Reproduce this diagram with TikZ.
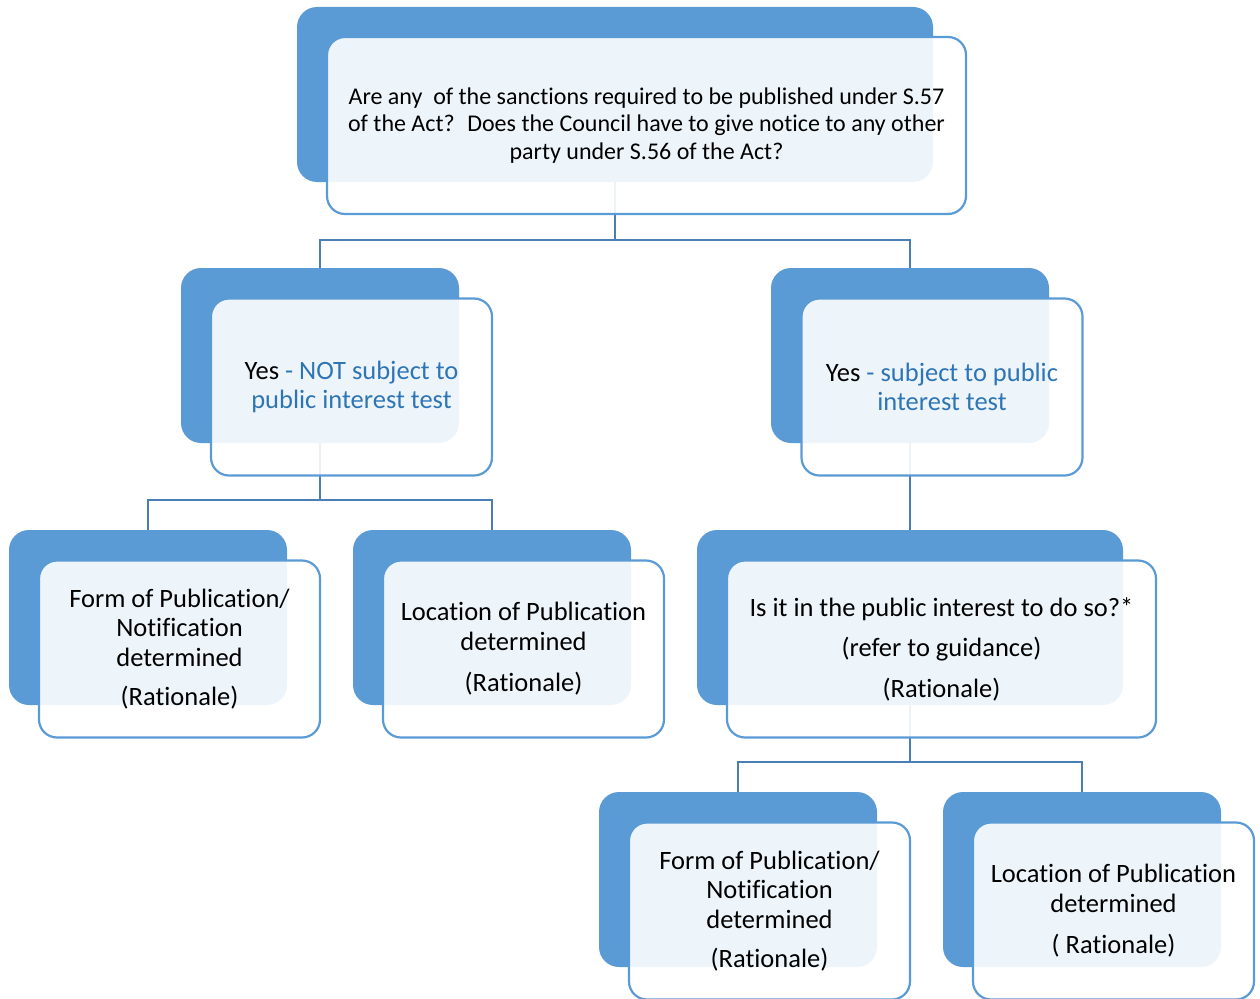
\documentclass[tikz,border=0pt]{standalone}
\usepackage{fontspec}
\setmainfont{Carlito}[Ligatures={NoCommon}]
\definecolor{accent}{HTML}{5B9BD5}
\definecolor{linec}{HTML}{4A7EB5}
\definecolor{bluetext}{HTML}{2E75B6}
\tikzset{
  backbox/.style={draw=none, fill=accent, rounded corners=20pt, minimum width=278pt, minimum height=175pt, inner sep=0pt},
  frontbox/.style={draw=accent, line width=2.2pt, fill=white, fill opacity=0.9, text opacity=1, rounded corners=18pt, minimum width=281pt, minimum height=177pt, align=center, inner sep=0pt, font=\fontsize{26.5}{29.5}\selectfont},
  conn/.style={draw=linec, line width=2.5pt}
}
\begin{document}
\begin{tikzpicture}[x=1pt,y=1pt]
\useasboundingbox (0,0) rectangle (1260,-998);
% back boxes
\node[backbox, minimum width=636pt] (b0) at (615,-94.5) {};
\node[backbox] (b1) at (320,-355.5) {};
\node[backbox] (b2) at (910,-355.5) {};
\node[backbox] (b3) at (148,-617.5) {};
\node[backbox] (b4) at (492,-617.5) {};
\node[backbox, minimum width=426pt] (b5) at (910,-617.5) {};
\node[backbox] (b6) at (738,-879.5) {};
\node[backbox] (b7) at (1082,-879.5) {};
% junctions
\coordinate (j0) at (0,-240);
\coordinate (j1) at (0,-500);
\coordinate (j2) at (0,-762);
% connectors
\draw[conn] (b0.south) -- (b0.south |- j0) -| (b1.north);
\draw[conn] (b0.south |- j0) -| (b2.north);
\draw[conn] (b1.south) -- (b1.south |- j1) -| (b3.north);
\draw[conn] (b1.south |- j1) -| (b4.north);
\draw[conn] (b2.south) -- (b5.north);
\draw[conn] (b5.south) -- (b5.south |- j2) -| (b6.north);
\draw[conn] (b5.south |- j2) -| (b7.north);
% front boxes
\node[frontbox, minimum width=639pt, font=\fontsize{24}{27.5}\selectfont] (f0) at (646.5,-125.5)
  {Are any~ of the sanctions required to be published under S.57\\ of the Act?~ Does the Council have to give notice to any other\\ party under S.56 of the Act?};
\node[frontbox] (f1) at (351.5,-387)
  {Yes \textcolor{bluetext}{- NOT subject to}\\ \textcolor{bluetext}{public interest test}};
\node[frontbox] (f2) at (942,-387)
  {Yes \textcolor{bluetext}{- subject to public}\\ \textcolor{bluetext}{interest test}};
\node[frontbox] (f3) at (179.5,-649)
  {Form of Publication/\\ Notification\\ determined\\[10pt] (Rationale)};
\node[frontbox] (f4) at (523.5,-649)
  {Location of Publication\\ determined\\[12pt] (Rationale)};
\node[frontbox, minimum width=429pt] (f5) at (941.5,-649)
  {Is it in the public interest to do so?*\\[11pt] (refer to guidance)\\[11pt] (Rationale)};
\node[frontbox] (f6) at (769.5,-911)
  {Form of Publication/\\ Notification\\ determined\\[10pt] (Rationale)};
\node[frontbox] (f7) at (1113.5,-911)
  {Location of Publication\\ determined\\[12pt] ( Rationale)};
\end{tikzpicture}
\end{document}
